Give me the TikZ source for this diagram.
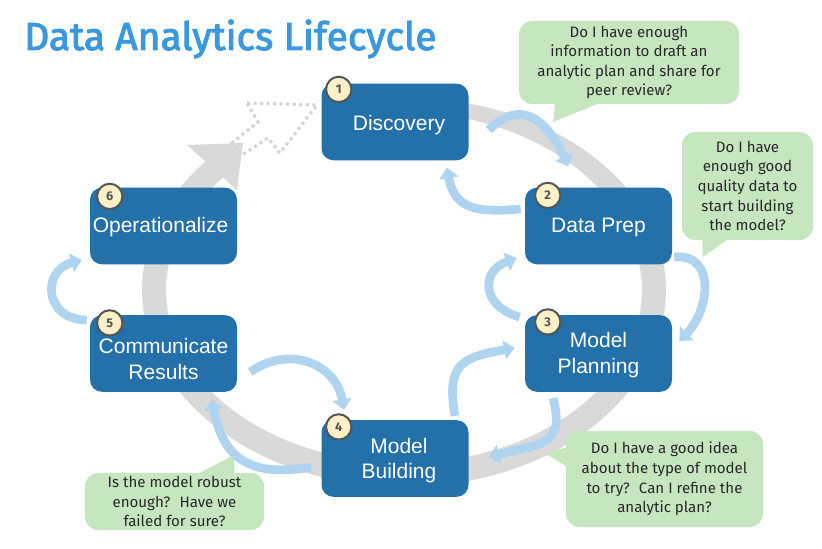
\documentclass[tikz,border=0pt]{standalone}
\usepackage{fontspec}
\setmainfont{Liberation Sans}
\newfontfamily\fira{Fira Sans}
\newfontfamily\firatitle{Fira Sans}[FakeBold=2.5]
\usetikzlibrary{arrows.meta,calc}
\definecolor{boxblue}{RGB}{36,112,168}
\definecolor{flowblue}{RGB}{174,212,240}
\definecolor{ringgray}{RGB}{217,217,217}
\definecolor{dotgray}{RGB}{212,212,212}
\definecolor{calloutgreen}{RGB}{198,230,192}
\definecolor{calltext}{RGB}{40,40,40}
\definecolor{cream}{RGB}{252,240,200}
\definecolor{numgray}{RGB}{85,85,85}
\definecolor{titleblue}{RGB}{58,152,222}
\begin{document}
\begin{tikzpicture}[x=0.75pt,y=0.75pt,
  stage/.style={fill=boxblue, rounded corners=9pt, minimum width=110.25pt, minimum height=57.5pt, inner sep=0pt},
  stagetext/.style={text=white, font=\fontsize{15.75}{19.1}\selectfont, align=center, inner sep=0pt},
  num/.style={circle, fill=cream, draw=numgray, line width=1.5pt, minimum size=19pt, inner sep=0pt, font=\fira\bfseries\fontsize{9.5}{10}\selectfont, text=numgray},
  callout/.style={fill=calloutgreen, rounded corners=10pt, inner sep=0pt, align=center, text=calltext, font=\fira\fontsize{11.3}{14.7}\selectfont},
  tail/.style={fill=calloutgreen},
  flow/.style={draw=flowblue, line width=6.5pt, -{Triangle[width=14pt,length=8pt]}},
  dots/.style={draw=dotgray, line width=2.3pt, dash pattern=on 2.3pt off 2.6pt}
]
\useasboundingbox (0,0) rectangle (822,-549);
\fill[white] (0,0) rectangle (822,-549);

% title
\node[anchor=base west, inner sep=0pt, text=titleblue, font=\firatitle\fontsize{29.2}{35}\selectfont] (title) at (24,-50) {Data Analytics Lifecycle};

% big gray cycle
\fill[ringgray] plot[domain=0:322, samples=140, variable=\s]
  ({404+(256+6*min(1,\s/90))*cos(100-\s)}, {-290+(191+6*min(1,\s/90))*sin(100-\s)})
  -- plot[domain=0:322, samples=140, variable=\s]
  ({404+(244-6*min(1,(322-\s)/90))*cos(-222+\s)}, {-290+(179-6*min(1,(322-\s)/90))*sin(-222+\s)}) -- cycle;
\fill[ringgray] (187,-145) -- (243,-143) -- (237,-190) -- cycle;

% dotted outline arrow
\draw[dots] (247,-103) -- (317,-105) -- (280,-153) -- (268,-138) -- (242,-155) -- (232,-143) -- (258,-122) -- cycle;

% callout tails
\fill[tail] (556,-98) -- (553,-122) -- (612,-98) -- cycle;
\fill[tail] (702,-234) -- (703,-257) -- (735,-234) -- cycle;
\fill[tail] (572,-446) -- (545,-453) -- (572,-470) -- cycle;
\fill[tail] (190,-478) -- (234,-455) -- (234,-478) -- cycle;

% callouts
\node[callout, minimum width=165pt, minimum height=62.25pt] (q1) at (629,-62.5)
  {Do I have enough\\information to draft an\\analytic plan and share for\\peer review?};
\node[callout, minimum width=98.25pt, minimum height=81pt] (q2) at (747.5,-186)
  {Do I have\\enough good\\quality data to\\start building\\the model?};
\node[callout, minimum width=147.75pt, minimum height=72pt] (q3) at (664.5,-479)
  {Do I have a good idea\\about the type of model\\to try?~ Can I refine the\\analytic plan?};
\node[callout, minimum width=134.25pt, minimum height=42.75pt] (q4) at (174.5,-501.5)
  {Is the model robust\\enough?~ Have we\\failed for sure?};

% stages
\node[stage] (disc) at (395,-122) {};
\node[stage] (dp) at (598.5,-226) {};
\node[stage] (mp) at (598.5,-353.5) {};
\node[stage] (mb) at (395,-458.5) {};
\node[stage] (cr) at (163.5,-353.5) {};
\node[stage] (op) at (163.5,-226) {};

\node[stagetext] (discT) at ($(disc.center)+(4,-3.5)$) {Discovery};
\node[stagetext] (dpT) at ($(dp.center)+(0,-1.5)$) {Data Prep};
\node[stagetext] (mpT) at ($(mp.center)+(0,-1.5)$) {Model\\Planning};
\node[stagetext] (mbT) at ($(mb.center)+(4,-2)$) {Model\\Building};
\node[stagetext] (crT) at ($(cr.center)+(0,-5.5)$) {Communicate\\Results};
\node[stagetext] (opT) at ($(op.center)+(-3,-1.5)$) {Operationalize};

\node[num] (n1) at ($(disc.north west)+(17.5,-6)$) {1};
\node[num] (n2) at ($(dp.north west)+(23,-8)$) {2};
\node[num] (n3) at ($(mp.north west)+(23,-7)$) {3};
\node[num] (n4) at ($(mb.north west)+(17.5,-7)$) {4};
\node[num] (n5) at ($(cr.north west)+(20,-8)$) {5};
\node[num] (n6) at ($(op.north west)+(20,-9)$) {6};

% flow arrows
\draw[flow] ($(disc.east)+(20,-8)$) to[out=45, in=115, looseness=1.4] ($(dp.north)+(-30,21)$);
\draw[flow] ($(dp.west)+(-4,17)$) to[out=185, in=-80, looseness=1.3] ($(disc.south)+(52,-7)$);
\draw[flow] ($(dp.east)+(2,-31)$) to[out=5, in=45, looseness=1.3] ($(mp.east)+(7,12.5)$);
\draw[flow] ($(mp.west)+(-5,36.5)$) to[out=165, in=200, looseness=1.7] ($(dp.west)+(-8,-32)$);
\draw[flow] ($(mb.north)+(60,4)$) to[out=100, in=190, looseness=1.5] ($(mp.west)+(-10,5.5)$);
\draw[flow] ($(mp.south)+(-45.5,-6)$) to[out=-75, in=15, looseness=1.5] ($(mb.east)+(20,1.5)$);
\draw[flow] ($(cr.east)+(13,-18.5)$) to[out=35, in=100, looseness=1.2] ($(mb.north)+(-51,10)$);
\draw[flow] ($(mb.west)+(-10,-8.5)$) to[out=190, in=-80, looseness=1.3] ($(cr.south)+(48.5,-7)$);
\draw[flow] ($(cr.west)+(-3,33.5)$) to[out=180, in=195, looseness=1.8] ($(op.west)+(-8,-34)$);
\end{tikzpicture}
\end{document}
